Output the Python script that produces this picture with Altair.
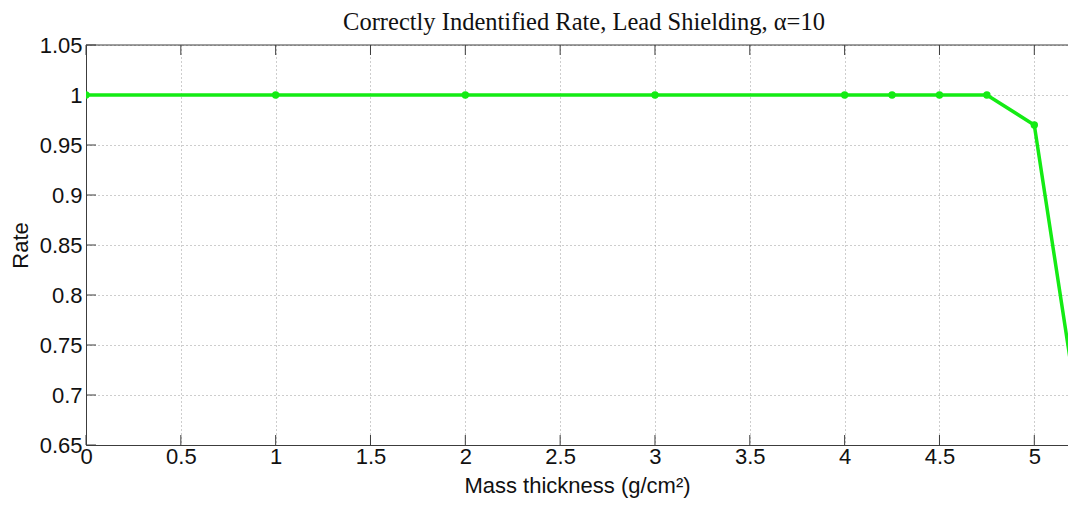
import altair as alt
import pandas as pd

# data
thickness = [0, 1, 2, 3, 4, 4.25, 4.5, 4.75, 5, 5.25]
rate = [1, 1, 1, 1, 1, 1, 1, 1, 0.97, 0.66]
x_ticks = [0, 0.5, 1, 1.5, 2, 2.5, 3, 3.5, 4, 4.5, 5]
y_ticks = [0.65, 0.7, 0.75, 0.8, 0.85, 0.9, 0.95, 1.0, 1.05]

W, H = 982, 400
X_MAX = W / 189.66
GREEN = "#14eb14"
AXIS_COLOR = "#3c3c3c"

df = pd.DataFrame({"x": thickness, "y": rate})
xt = pd.DataFrame({"x": x_ticks})
yt = pd.DataFrame({"y": y_ticks})
one = pd.DataFrame({"k": [0]})

xscale = alt.Scale(domain=[0, X_MAX], nice=False, zero=False)
yscale = alt.Scale(domain=[0.65, 1.05], nice=False, zero=False)

X = alt.X(
    "x:Q",
    scale=xscale,
    title="Mass thickness (g/cm²)",
    axis=alt.Axis(
        values=x_ticks, format="~g", ticks=False, tickSize=0,
        grid=True, gridDash=[1, 3], gridColor="#9a9a9a", gridWidth=1,
        domainColor=AXIS_COLOR, domainWidth=1,
        labelFont="Liberation Sans", labelFontSize=22, labelColor="#111",
        labelPadding=1, labelFlush=False, labelOverlap=False,
        titleFont="Liberation Sans", titleFontSize=22, titleFontWeight="normal",
        titleColor="#111", titlePadding=8,
    ),
)
Y = alt.Y(
    "y:Q",
    scale=yscale,
    title="Rate",
    axis=alt.Axis(
        values=y_ticks, format="~g", ticks=False, tickSize=0,
        grid=True, gridDash=[1, 3], gridColor="#9a9a9a", gridWidth=1,
        domainColor=AXIS_COLOR, domainWidth=1,
        labelFont="Liberation Sans", labelFontSize=22, labelColor="#111",
        labelPadding=4, labelFlush=False, labelOverlap=False,
        titleFont="Liberation Sans", titleFontSize=22, titleFontWeight="normal",
        titleColor="#111", titlePadding=7,
    ),
)

line = alt.Chart(df).mark_line(color=GREEN, strokeWidth=3.5, clip=True).encode(x=X, y=Y)
pts = alt.Chart(df).mark_circle(color=GREEN, size=55, opacity=1, clip=True).encode(x=X, y=Y)

bottom_ticks = alt.Chart(xt).mark_rule(color=AXIS_COLOR, strokeWidth=1).encode(
    x=X, y=alt.value(H), y2=alt.value(H - 10))
top_ticks = alt.Chart(xt).mark_rule(color=AXIS_COLOR, strokeWidth=1).encode(
    x=X, y=alt.value(0), y2=alt.value(10))
left_ticks = alt.Chart(yt).mark_rule(color=AXIS_COLOR, strokeWidth=1).encode(
    y=Y, x=alt.value(0), x2=alt.value(10))
top_border = alt.Chart(one).mark_rule(color=AXIS_COLOR, strokeWidth=1).encode(
    x=alt.value(0), x2=alt.value(W), y=alt.value(0))

chart = (
    alt.layer(bottom_ticks, top_ticks, left_ticks, top_border, line, pts)
    .properties(
        width=W,
        height=H,
        title=alt.TitleParams(
            "Correctly Indentified Rate, Lead Shielding, α=10",
            font="Liberation Serif", fontSize=24.5, fontWeight="normal",
            color="#111", anchor="middle", offset=-1, dx=7,
        ),
        autosize=alt.AutoSizeParams(type="none"),
        padding={"left": 78, "top": 37, "right": 0, "bottom": 53},
        background="white",
    )
    .configure_view(stroke=None)
)

chart.save("out.html", embed_options={"renderer": "svg", "actions": False})
